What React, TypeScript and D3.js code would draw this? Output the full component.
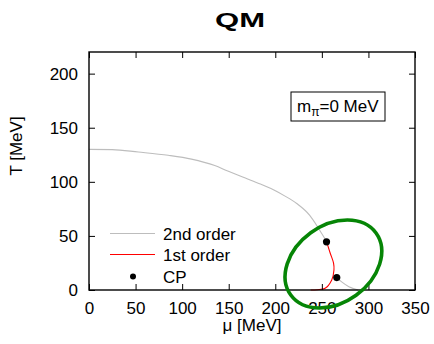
import React, { useEffect, useRef } from "react";
import * as d3 from "d3";

const secondOrderUpper: [number, number][] = [
  [0, 130], [25, 129.8], [53, 127.5], [85, 124.5], [110, 121], [135, 115], [149, 110],
  [165, 104.5], [181, 99], [198, 92.6], [210, 87], [223, 80], [237, 69], [245, 59],
  [250, 52], [255, 45],
];
const secondOrderLower: [number, number][] = [
  [266, 11.5], [272, 7], [279, 3], [289, 0],
];
const firstOrder: [number, number][] = [
  [255, 45], [259, 34], [262.5, 25], [263, 18.5], [260.6, 9.3], [253.5, 1.6], [245, 0.3], [238, 0],
];
const criticalPoints: [number, number][] = [
  [255, 44.5], [266, 11.5],
];
const xTicks = [0, 50, 100, 150, 200, 250, 300, 350];
const yTicks = [0, 50, 100, 150, 200];
const legendLabels = ["2nd order", "1st order", "CP"];
const ellipseCenter: [number, number] = [262.4, 24];

const W = 434, H = 344;
const M = { left: 89, right: 415, top: 52, bottom: 290 };
const FONT = "'Liberation Sans', Arial, Helvetica, sans-serif";

export default function App() {
  const gx = useRef<SVGGElement>(null);
  const gy = useRef<SVGGElement>(null);
  const gxt = useRef<SVGGElement>(null);
  const gyr = useRef<SVGGElement>(null);

  const x = d3.scaleLinear().domain([0, 350]).range([M.left, M.right]);
  const y = d3.scaleLinear().domain([0, 220]).range([M.bottom, M.top]);

  useEffect(() => {
    const style = (sel: d3.Selection<SVGGElement, unknown, null, undefined>, labels: boolean) => {
      sel.select(".domain").remove();
      sel.selectAll(".tick line").attr("stroke", "#000").attr("stroke-width", 1);
      sel.selectAll(".tick text")
        .attr("font-family", FONT)
        .attr("font-size", 17)
        .attr("fill", "#000")
        .style("display", labels ? null : "none");
    };
    const bx = d3.select(gx.current!);
    bx.call(d3.axisBottom(x).tickValues(xTicks).tickSize(-6).tickPadding(12).tickFormat(d3.format("d")) as any);
    style(bx, true);
    const ly = d3.select(gy.current!);
    ly.call(d3.axisLeft(y).tickValues(yTicks).tickSize(-6).tickPadding(11).tickFormat(d3.format("d")) as any);
    style(ly, true);
    const tx = d3.select(gxt.current!);
    tx.call(d3.axisTop(x).tickValues(xTicks).tickSize(-6) as any);
    style(tx, false);
    const ry = d3.select(gyr.current!);
    ry.call(d3.axisRight(y).tickValues(yTicks).tickSize(-6) as any);
    style(ry, false);
  }, []);

  const lineGray = d3.line<[number, number]>().x(d => x(d[0])).y(d => y(d[1])).curve(d3.curveMonotoneX);
  const lineSmooth = d3.line<[number, number]>().x(d => x(d[0])).y(d => y(d[1])).curve(d3.curveCatmullRom);

  const legY = [233.5, 254.5, 276.5];

  return (
    <div style={{ position: "fixed", left: 0, top: 0 }}>
      <svg width={W} height={H} style={{ display: "block", background: "#fff" }} fontFamily={FONT}>
        <text x={240} y={27} textAnchor="middle" fontSize={21} fontWeight="bold" textLength={50} lengthAdjust="spacingAndGlyphs">QM</text>

        <path d={lineGray(secondOrderUpper)!} fill="none" stroke="#bdbdbd" strokeWidth={1.1} />
        <path d={lineGray(secondOrderLower)!} fill="none" stroke="#bdbdbd" strokeWidth={1.1} />
        <path d={lineSmooth(firstOrder)!} fill="none" stroke="#ff0000" strokeWidth={1.1} />
        {criticalPoints.map((d, i) => (
          <circle key={i} cx={x(d[0])} cy={y(d[1])} r={3.6} fill="#000" />
        ))}

        <g transform={`translate(0,${M.bottom})`} ref={gx} />
        <g transform={`translate(${M.left},0)`} ref={gy} />
        <g transform={`translate(0,${M.top})`} ref={gxt} />
        <g transform={`translate(${M.right},0)`} ref={gyr} />
        <rect x={M.left} y={M.top} width={M.right - M.left} height={M.bottom - M.top} fill="none" stroke="#000" strokeWidth={1.4} />

        <ellipse cx={x(ellipseCenter[0])} cy={y(ellipseCenter[1])} rx={52.7} ry={38.6}
          transform={`rotate(-36 ${x(ellipseCenter[0])} ${y(ellipseCenter[1])})`}
          fill="none" stroke="#068506" strokeWidth={3.6} />

        <rect x={291} y={92} width={94} height={29} fill="#fff" stroke="#000" strokeWidth={1} />
        <text x={297} y={112} fontSize={17}>m<tspan fontSize={12} dy={4}>π</tspan><tspan dy={-4}>=0 MeV</tspan></text>

        <line x1={110} x2={155} y1={legY[0]} y2={legY[0]} stroke="#bdbdbd" strokeWidth={1.1} />
        <line x1={110} x2={155} y1={legY[1]} y2={legY[1]} stroke="#ff0000" strokeWidth={1.1} />
        <circle cx={133} cy={legY[2]} r={3} fill="#000" />
        {legendLabels.map((t, i) => (
          <text key={t} x={163} y={legY[i] + 6} fontSize={17}>{t}</text>
        ))}

        <text x={252} y={331} textAnchor="middle" fontSize={17}>μ [MeV]</text>
        <text transform="translate(22,146) rotate(-90)" textAnchor="middle" fontSize={17}>T [MeV]</text>
      </svg>
    </div>
  );
}
